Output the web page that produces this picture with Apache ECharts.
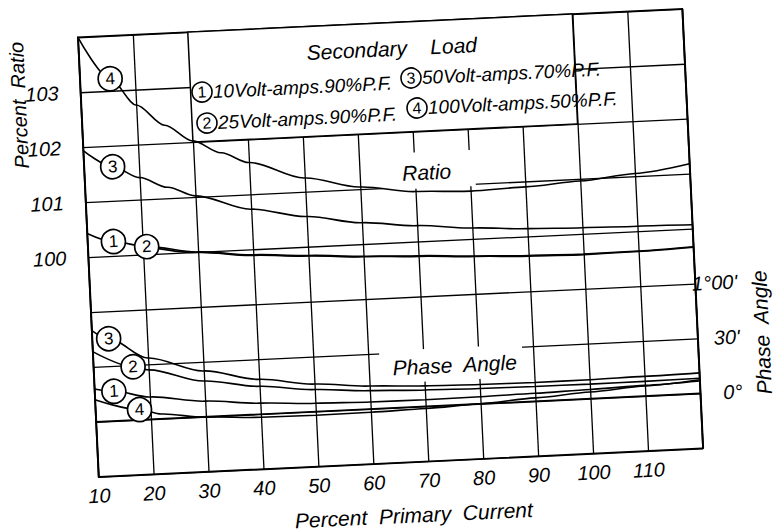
<!DOCTYPE html>
<html><head><meta charset="utf-8">
<script src="https://cdn.jsdelivr.net/npm/echarts@6/dist/echarts.min.js"></script>
<style>
html,body{margin:0;padding:0;background:#fff;overflow:hidden;width:775px;height:531px}
#wrap{position:absolute;left:0;top:0;width:775px;height:531px;transform:rotate(-2.7deg);transform-origin:387.5px 265.5px}
#chart{width:775px;height:531px}
</style></head>
<body><div id="wrap"><div id="chart"></div></div>
<script>
// ---- axis ticks ----
const xTicks = [10, 20, 30, 40, 50, 60, 70, 80, 90, 100, 110];
const ratioTicks = [100, 101, 102, 103];
const phaseTickValues = [0, 30, 60];
const phaseTickText = ["0°", "30'", "1°00'"];

// ---- Ratio curves (percent ratio vs percent primary current) ----
const ratio1X = [10, 14.7, 20.7, 30, 40, 50, 60, 70, 80, 90, 100, 110, 120];
const ratio1Y = [100.43, 100.26, 100.14, 100.0, 99.9, 99.84, 99.78, 99.74, 99.69, 99.65, 99.63, 99.64, 99.67];
const ratio2X = [20.7, 30, 40, 50, 60, 70, 80, 90, 100, 110, 120];
const ratio2Y = [100.14, 99.99, 99.89, 99.83, 99.77, 99.73, 99.68, 99.64, 99.62, 99.63, 99.66];
const ratio3X = [10, 15.2, 20, 25, 30, 40, 50, 60, 70, 80, 90, 100, 110, 120];
const ratio3Y = [101.94, 101.62, 101.4, 101.2, 101.02, 100.73, 100.55, 100.39, 100.29, 100.2, 100.14, 100.11, 100.09, 100.07];
const ratio4X = [10, 15.5, 20, 25, 30, 35, 40, 50, 60, 70, 80, 90, 100, 110, 120];
const ratio4Y = [104.0, 103.22, 102.72, 102.33, 102.02, 101.78, 101.58, 101.25, 101.04, 100.91, 100.87, 100.9, 100.96, 101.05, 101.18];

// ---- Phase angle curves (minutes) ----
const phase1X = [10, 13.5, 20, 30, 40, 50, 60, 70, 80, 90, 100, 110, 120];
const phase1Y = [18, 16.2, 12.2, 8.5, 6, 4.5, 3.8, 3.6, 3.8, 4.3, 5, 5.8, 6.8];
const phase2X = [10, 17.2, 20, 30, 40, 50, 60, 70, 80, 90, 100, 110, 120];
const phase2Y = [38.4, 29.1, 27, 19.5, 15.2, 12, 10, 8.9, 8.3, 8, 7.9, 8, 8.3];
const phase3X = [10, 13, 20, 30, 40, 50, 60, 70, 80, 90, 100, 110, 120];
const phase3Y = [49.8, 45, 33.5, 25, 19, 15, 12.5, 11.2, 10.5, 10.2, 10.3, 10.7, 11.2];
const phase4X = [10, 18, 22, 30, 40, 50, 60, 70, 80, 90, 100, 110, 120];
const phase4Y = [12.1, 5.6, 2.6, -0.3, -1.7, -2, -1.8, -1.2, 0, 1.8, 3.6, 5.5, 7.5];

// ---- curve number markers ----
const ratioMarkNames = ["4", "3", "1", "2"];
const ratioMarkX = [15.5, 15.2, 14.7, 20.7];
const ratioMarkY = [103.22, 101.62, 100.26, 100.14];
const phaseMarkNames = ["3", "2", "1", "4"];
const phaseMarkX = [13, 17.2, 13.5, 18];
const phaseMarkY = [45, 29.1, 16.2, 5.6];

// ---- legend ----
const legendNums = ["1", "3", "2", "4"];
const legendTexts = ["10Volt-amps.90%P.F.", "50Volt-amps.70%P.F.", "25Volt-amps.90%P.F.", "100Volt-amps.50%P.F."];

const FONT = "'Liberation Sans', Arial, sans-serif";
const pair = (xs, ys) => xs.map((x, i) => [x, ys[i]]);

function curve(name, xs, ys, yIdx) {
  return {
    name, type: 'line', yAxisIndex: yIdx, data: pair(xs, ys),
    smooth: 0.3, smoothMonotone: 'x', showSymbol: false, symbol: 'none',
    lineStyle: { color: '#000', width: 1.6 }, z: 3, silent: true
  };
}
function marks(names, xs, ys, yIdx) {
  return {
    type: 'scatter', yAxisIndex: yIdx, z: 5, silent: true,
    data: names.map((n, i) => ({ value: [xs[i], ys[i]], name: n })),
    symbol: 'circle', symbolSize: 24,
    itemStyle: { color: '#fff', opacity: 1, borderColor: '#000', borderWidth: 1.7 },
    label: { show: true, position: 'inside', formatter: p => p.name, color: '#000', fontSize: 17, fontFamily: FONT }
  };
}

const chart = echarts.init(document.getElementById('chart'), null, { renderer: 'svg' });

const legendPos = [[210.4, 83.5], [419.8, 79.3], [213.9, 114.7], [424.4, 109.6]];
const graphics = [];
legendNums.forEach((n, i) => {
  const [cx, cy] = legendPos[i];
  graphics.push({ type: 'circle', z: 20, shape: { cx, cy, r: 10 }, style: { fill: '#fff', stroke: '#000', lineWidth: 1.6 } });
  graphics.push({ type: 'text', z: 21, x: cx, y: cy, style: { text: n, fontSize: 16, fontFamily: FONT, fill: '#000', align: 'center', verticalAlign: 'middle' } });
  graphics.push({ type: 'text', z: 21, x: cx + 11, y: cy, style: { text: legendTexts[i], fontSize: 19, fontStyle: 'italic', fontFamily: FONT, fill: '#000', align: 'left', verticalAlign: 'middle' } });
});
const txt = (text, x, y, size, rot) => ({
  type: 'text', z: 21, x, y, rotation: rot || 0,
  style: { text, fontSize: size, fontStyle: 'italic', fontFamily: FONT, fill: '#000', align: 'center', verticalAlign: 'middle' }
});
graphics.push(txt('Secondary    Load', 402, 49, 21));
graphics.push(txt('Ratio', 431, 174, 21));
graphics.push(txt('Phase  Angle', 450, 368, 21));
graphics.push(txt('Percent  Ratio', 27, 88, 20, Math.PI / 2));
graphics.push(txt('Phase  Angle', 758, 350, 21, Math.PI / 2));
graphics.push(txt('Percent  Primary  Current', 402, 516, 21));

const option = {
  animation: false,
  backgroundColor: '#fff',
  grid: { left: 89, top: 23, width: 605, height: 440, show: true, borderColor: '#000', borderWidth: 1.6, backgroundColor: 'transparent' },
  xAxis: {
    type: 'value', min: 10, max: 120, interval: 10,
    axisLine: { show: true, lineStyle: { color: '#000', width: 1.6 } },
    axisTick: { show: false },
    splitLine: { show: true, lineStyle: { color: '#000', width: 1.3 } },
    axisLabel: { margin: 9, color: '#000', fontSize: 20, fontStyle: 'italic', fontFamily: FONT,
      formatter: v => xTicks.includes(v) ? String(v) : '' }
  },
  yAxis: [{
    type: 'value', min: 96, max: 104, interval: 1,
    axisLine: { show: true, lineStyle: { color: '#000', width: 1.6 } },
    axisTick: { show: false },
    splitLine: { show: true, lineStyle: { color: '#000', width: 1.3 } },
    axisLabel: { margin: 22, color: '#000', fontSize: 20, fontStyle: 'italic', fontFamily: FONT,
      formatter: v => ratioTicks.includes(v) ? String(v) : '' }
  }, {
    type: 'value', min: -30, max: 210, interval: 30, position: 'right',
    axisLine: { show: true, lineStyle: { color: '#000', width: 1.6 } },
    axisTick: { show: false },
    splitLine: { show: false },
    axisLabel: { margin: 42, align: 'right', color: '#000', fontSize: 20, fontStyle: 'italic', fontFamily: FONT,
      formatter: v => { const k = phaseTickValues.indexOf(v); return k >= 0 ? phaseTickText[k] : ''; } }
  }],
  graphic: graphics,
  series: [
    {
      type: 'line', data: [[10, 96]], symbol: 'none', showSymbol: false, lineStyle: { opacity: 0 }, z: 1, silent: true,
      markArea: {
        silent: true,
        data: [
          [{ coord: [30, 102], itemStyle: { color: '#fff', opacity: 1, borderColor: '#000', borderWidth: 1.5 } }, { coord: [100, 104] }],
          [{ coord: [64, 100.96], itemStyle: { color: '#fff', opacity: 1, borderWidth: 0 } }, { coord: [81, 101.62] }],
          [{ coord: [62, 97.45], itemStyle: { color: '#fff', opacity: 1, borderWidth: 0 } }, { coord: [88, 98.04] }]
        ]
      }
    },
    curve('r1', ratio1X, ratio1Y, 0),
    curve('r2', ratio2X, ratio2Y, 0),
    curve('r3', ratio3X, ratio3Y, 0),
    curve('r4', ratio4X, ratio4Y, 0),
    curve('p1', phase1X, phase1Y, 1),
    curve('p2', phase2X, phase2Y, 1),
    curve('p3', phase3X, phase3Y, 1),
    curve('p4', phase4X, phase4Y, 1),
    marks(ratioMarkNames, ratioMarkX, ratioMarkY, 0),
    marks(phaseMarkNames, phaseMarkX, phaseMarkY, 1)
  ]
};
chart.setOption(option);
</script>
</body></html>
